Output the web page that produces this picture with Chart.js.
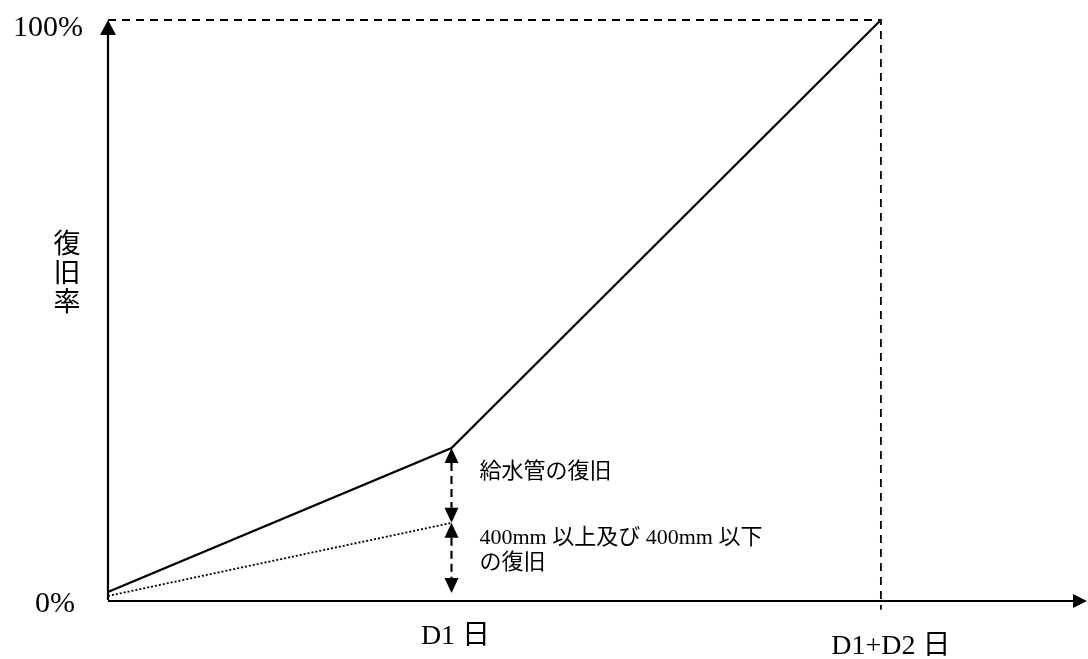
<!DOCTYPE html>
<html>
<head>
<meta charset="utf-8">
<script src="https://cdn.jsdelivr.net/npm/chart.js@4"></script>
<style>
html, body { margin: 0; padding: 0; background: #fff; }
#wrap { width: 1088px; height: 659px; position: relative; }
</style>
</head>
<body>
<div id="wrap"><canvas id="chart"></canvas></div>
<script>
// axis ticks / labels
const xTickValues = [4, 9];
const xTickLabels = ['D1 日', 'D1+D2 日'];
const yTickValues = [0, 100];
const yTickLabels = ['0%', '100%'];
const yTitle = ['復', '旧', '率'];

// total recovery (solid) and main pipes (dotted)
const totalX = [0, 4, 9];
const totalY = [1.4, 26.2, 100];
const mainPipeX = [0, 4];
const mainPipeY = [0.7, 13.3];

// dashed guide: top of 100% and the D1+D2 day
const guideX = [0, 9, 9];
const guideY = [100, 100, -1.7];

// range arrows at D1
const rangeX = 4;
const rangeBottom = 1.2;

// notes next to the arrows
const noteY = [22.1, 10.7];
const noteLines = [['給水管の復旧'], ['400mm 以上及び 400mm 以下', 'の復旧']];

// label offsets (style only)
const xTickDx = [4, 10];
const xTickTop = [635, 645];
const yTickRight = [75, 83];
const yTickDy = [4, 8];

const SERIF = '"Liberation Serif", "Noto Sans CJK JP", serif';
const SANS = '"Noto Sans CJK JP", sans-serif';

function pts(xs, ys) {
    return xs.map((x, i) => ({ x: x, y: ys[i] }));
}

function arrowHead(ctx, x, y, dir) {
    // dir -1 = pointing up, 1 = pointing down
    ctx.beginPath();
    ctx.moveTo(x, y);
    ctx.lineTo(x - 7, y - dir * 15);
    ctx.lineTo(x + 7, y - dir * 15);
    ctx.closePath();
    ctx.fill();
}

const drawExtras = {
    id: 'drawExtras',
    beforeDatasetsDraw(chart) {
        const ctx = chart.ctx;
        const xs = chart.scales.x;
        const ys = chart.scales.y;
        const ax = xs.getPixelForValue(0);
        const ay = ys.getPixelForValue(0);
        ctx.save();
        ctx.strokeStyle = '#000';
        ctx.fillStyle = '#000';
        ctx.lineWidth = 2.2;
        // y axis
        const yTop = ys.getPixelForValue(100);
        ctx.beginPath();
        ctx.moveTo(ax, ay);
        ctx.lineTo(ax, yTop + 10);
        ctx.stroke();
        ctx.beginPath();
        ctx.moveTo(ax, yTop);
        ctx.lineTo(ax - 8, yTop + 15);
        ctx.lineTo(ax + 8, yTop + 15);
        ctx.closePath();
        ctx.fill();
        // x axis
        const xEnd = xs.getPixelForValue(xs.max);
        ctx.beginPath();
        ctx.moveTo(ax, ay + 1);
        ctx.lineTo(xEnd - 10, ay + 1);
        ctx.stroke();
        ctx.beginPath();
        ctx.moveTo(xEnd, ay + 1);
        ctx.lineTo(xEnd - 14, ay - 6);
        ctx.lineTo(xEnd - 14, ay + 8);
        ctx.closePath();
        ctx.fill();
        ctx.restore();
    },
    afterDraw(chart) {
        const ctx = chart.ctx;
        const xs = chart.scales.x;
        const ys = chart.scales.y;
        const ax = xs.getPixelForValue(0);
        ctx.save();
        ctx.fillStyle = '#000';
        ctx.strokeStyle = '#000';

        // range arrows (dashed, two-headed)
        const px = xs.getPixelForValue(rangeX);
        const top = ys.getPixelForValue(totalY[1]);
        const mid = ys.getPixelForValue(mainPipeY[1]);
        const bot = ys.getPixelForValue(rangeBottom);
        ctx.lineWidth = 2.2;
        ctx.setLineDash([8, 5]);
        [[top, mid], [mid, bot]].forEach(r => {
            ctx.beginPath();
            ctx.moveTo(px, r[0] + 15);
            ctx.lineTo(px, r[1] - 15);
            ctx.stroke();
        });
        ctx.setLineDash([]);
        arrowHead(ctx, px, top, -1);
        arrowHead(ctx, px, mid, 1);
        arrowHead(ctx, px, mid, -1);
        arrowHead(ctx, px, bot, 1);

        // notes
        ctx.font = '22px ' + SERIF;
        ctx.textAlign = 'left';
        ctx.textBaseline = 'middle';
        noteLines.forEach((lines, i) => {
            const y0 = ys.getPixelForValue(noteY[i]);
            lines.forEach((t, j) => ctx.fillText(t, px + 28, y0 + j * 25));
        });

        // y ticks
        ctx.font = '30px ' + SERIF;
        ctx.textAlign = 'right';
        yTickValues.forEach((v, i) => {
            ctx.fillText(yTickLabels[i], yTickRight[i], ys.getPixelForValue(v) + yTickDy[i]);
        });

        // x ticks
        ctx.font = '28px ' + SERIF;
        ctx.textAlign = 'center';
        ctx.textBaseline = 'top';
        xTickValues.forEach((v, i) => {
            ctx.fillText(xTickLabels[i], xs.getPixelForValue(v) + xTickDx[i], xTickTop[i] - 12);
        });

        // y title, stacked vertically
        ctx.font = '27px ' + SANS;
        ctx.textBaseline = 'middle';
        yTitle.forEach((c, i) => ctx.fillText(c, ax - 41, 243 + i * 29));
        ctx.restore();
    }
};

new Chart(document.querySelector('#chart').getContext('2d'), {
    type: 'line',
    data: {
        datasets: [
            {
                label: 'total',
                data: pts(totalX, totalY),
                borderColor: '#000',
                borderWidth: 2.2,
                pointRadius: 0,
                tension: 0
            },
            {
                label: 'main pipe',
                data: pts(mainPipeX, mainPipeY),
                borderColor: '#000',
                borderWidth: 1.8,
                borderDash: [2, 2],
                pointRadius: 0,
                tension: 0
            },
            {
                label: 'guide',
                data: pts(guideX, guideY),
                borderColor: '#000',
                borderWidth: 1.8,
                borderDash: [8, 6],
                pointRadius: 0,
                tension: 0,
                clip: false
            }
        ]
    },
    options: {
        responsive: true,
        maintainAspectRatio: false,
        animation: false,
        layout: { padding: { left: 108, right: 1, top: 20, bottom: 59 } },
        scales: {
            x: { type: 'linear', min: 0, max: 11.4, display: false },
            y: { min: 0, max: 100, display: false }
        },
        plugins: {
            legend: { display: false },
            tooltip: { enabled: false }
        }
    },
    plugins: [drawExtras]
});
</script>
</body>
</html>
